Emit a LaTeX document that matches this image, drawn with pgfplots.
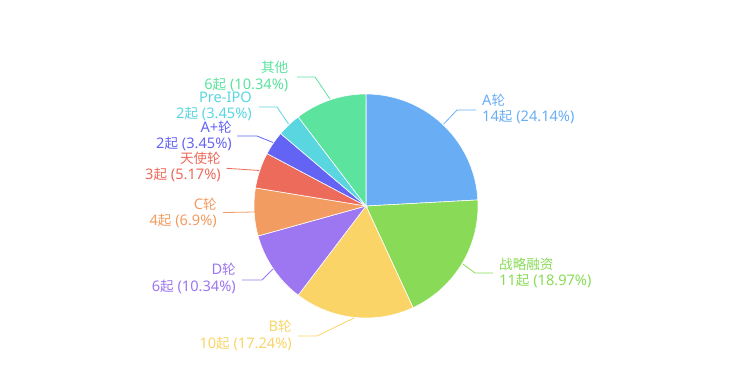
\documentclass[border=0pt]{standalone}
\usepackage{pgfplots}
\pgfplotsset{compat=1.18}
\usepackage{fontspec}
\setmainfont{Noto Sans}
\newfontfamily\cjk[Scale=0.93]{Noto Sans CJK SC}
\newcommand{\zh}[1]{{\cjk #1}}
\definecolor{cA}{HTML}{69AEF5}
\definecolor{cS}{HTML}{89DB57}
\definecolor{cB}{HTML}{FAD467}
\definecolor{cD}{HTML}{9D76F1}
\definecolor{cC}{HTML}{F29C62}
\definecolor{cT}{HTML}{EC6B5B}
\definecolor{cAP}{HTML}{6464F4}
\definecolor{cP}{HTML}{5AD6E1}
\definecolor{cO}{HTML}{5CE39E}
\tikzset{lbl/.style={font=\fontsize{14.6}{16.6}\selectfont, inner sep=0pt}}
% counts (起)
\def\nA{14}\def\nS{11}\def\nB{10}\def\nD{6}\def\nC{4}\def\nT{3}\def\nAP{2}\def\nP{2}\def\nO{6}
\pgfmathsetmacro\tot{\nA+\nS+\nB+\nD+\nC+\nT+\nAP+\nP+\nO}
\pgfmathsetmacro\kA{0}
\pgfmathsetmacro\kS{\kA+\nA/\tot*360}
\pgfmathsetmacro\kB{\kS+\nS/\tot*360}
\pgfmathsetmacro\kD{\kB+\nB/\tot*360}
\pgfmathsetmacro\kC{\kD+\nD/\tot*360}
\pgfmathsetmacro\kT{\kC+\nC/\tot*360}
\pgfmathsetmacro\kAP{\kT+\nT/\tot*360}
\pgfmathsetmacro\kP{\kAP+\nAP/\tot*360}
\pgfmathsetmacro\kO{\kP+\nP/\tot*360}
\pgfmathsetmacro\kE{\kO+\nO/\tot*360}
\def\cx{366}\def\cy{206}\def\rr{112}
\newcommand{\pieslice}[3]{\addplot[fill=#1, draw=white, line width=0.6pt, domain=#2:#3, samples=80, variable=\t] ({\cx+\rr*sin(\t)},{\cy-\rr*cos(\t)}) -- (axis cs:\cx,\cy) -- cycle;}
\begin{document}
\begin{tikzpicture}
\begin{axis}[
  width=732pt, height=375pt, scale only axis,
  xmin=0, xmax=732, ymin=0, ymax=375, y dir=reverse,
  hide axis, clip=false,
]
\path (axis cs:0,0) rectangle (axis cs:732,375);
\pieslice{cA}{\kA}{\kS}
\pieslice{cS}{\kS}{\kB}
\pieslice{cB}{\kB}{\kD}
\pieslice{cD}{\kD}{\kC}
\pieslice{cC}{\kC}{\kT}
\pieslice{cT}{\kT}{\kAP}
\pieslice{cAP}{\kAP}{\kP}
\pieslice{cP}{\kP}{\kO}
\pieslice{cO}{\kO}{\kE}
% leader lines
\draw[cA, line width=0.8pt] (axis cs:443.7,124) -- (axis cs:457,110) -- (axis cs:476,110);
\draw[cS, line width=0.8pt] (axis cs:462.8,264) -- (axis cs:475,273) -- (axis cs:493,273);
\draw[cB, line width=0.8pt] (axis cs:354,318) -- (axis cs:317,336) -- (axis cs:298,336);
\draw[cD, line width=0.8pt] (axis cs:273,269) -- (axis cs:262,280) -- (axis cs:242,280);
\draw[cC, line width=0.8pt] (axis cs:254.5,212) -- (axis cs:238,212.3) -- (axis cs:223,212.5);
\draw[cT, line width=0.8pt] (axis cs:259,170.5) -- (axis cs:242,169.3) -- (axis cs:226.5,168.3);
\draw[cAP, line width=0.8pt] (axis cs:273,142.5) -- (axis cs:257,136) -- (axis cs:237,136);
\draw[cP, line width=0.8pt] (axis cs:288.5,124) -- (axis cs:277,107) -- (axis cs:259,107);
\draw[cO, line width=0.8pt] (axis cs:330,99) -- (axis cs:315,77) -- (axis cs:297,77);
% labels
\node[lbl, cA, anchor=west, align=left] at (axis cs:482,109) {A\zh{轮}\\14\zh{起} (24.14\%)};
\node[lbl, cS, anchor=west, align=left] at (axis cs:499,273) {\zh{战略融资}\\11\zh{起} (18.97\%)};
\node[lbl, cB, anchor=east, align=right] at (axis cs:292,335.5) {B\zh{轮}\\10\zh{起} (17.24\%)};
\node[lbl, cD, anchor=east, align=right] at (axis cs:236,278.5) {D\zh{轮}\\6\zh{起} (10.34\%)};
\node[lbl, cC, anchor=east, align=right] at (axis cs:217,213) {C\zh{轮}\\4\zh{起} (6.9\%)};
\node[lbl, cT, anchor=east, align=right] at (axis cs:221,167) {\zh{天使轮}\\3\zh{起} (5.17\%)};
\node[lbl, cAP, anchor=east, align=right] at (axis cs:232,136) {A+\zh{轮}\\2\zh{起} (3.45\%)};
\node[lbl, cP, anchor=east, align=right] at (axis cs:252,106.5) {Pre-IPO\\2\zh{起} (3.45\%)};
\node[lbl, cO, anchor=east, align=right] at (axis cs:288.5,76.5) {\zh{其他}\\6\zh{起} (10.34\%)};
\end{axis}
\end{tikzpicture}
\end{document}
